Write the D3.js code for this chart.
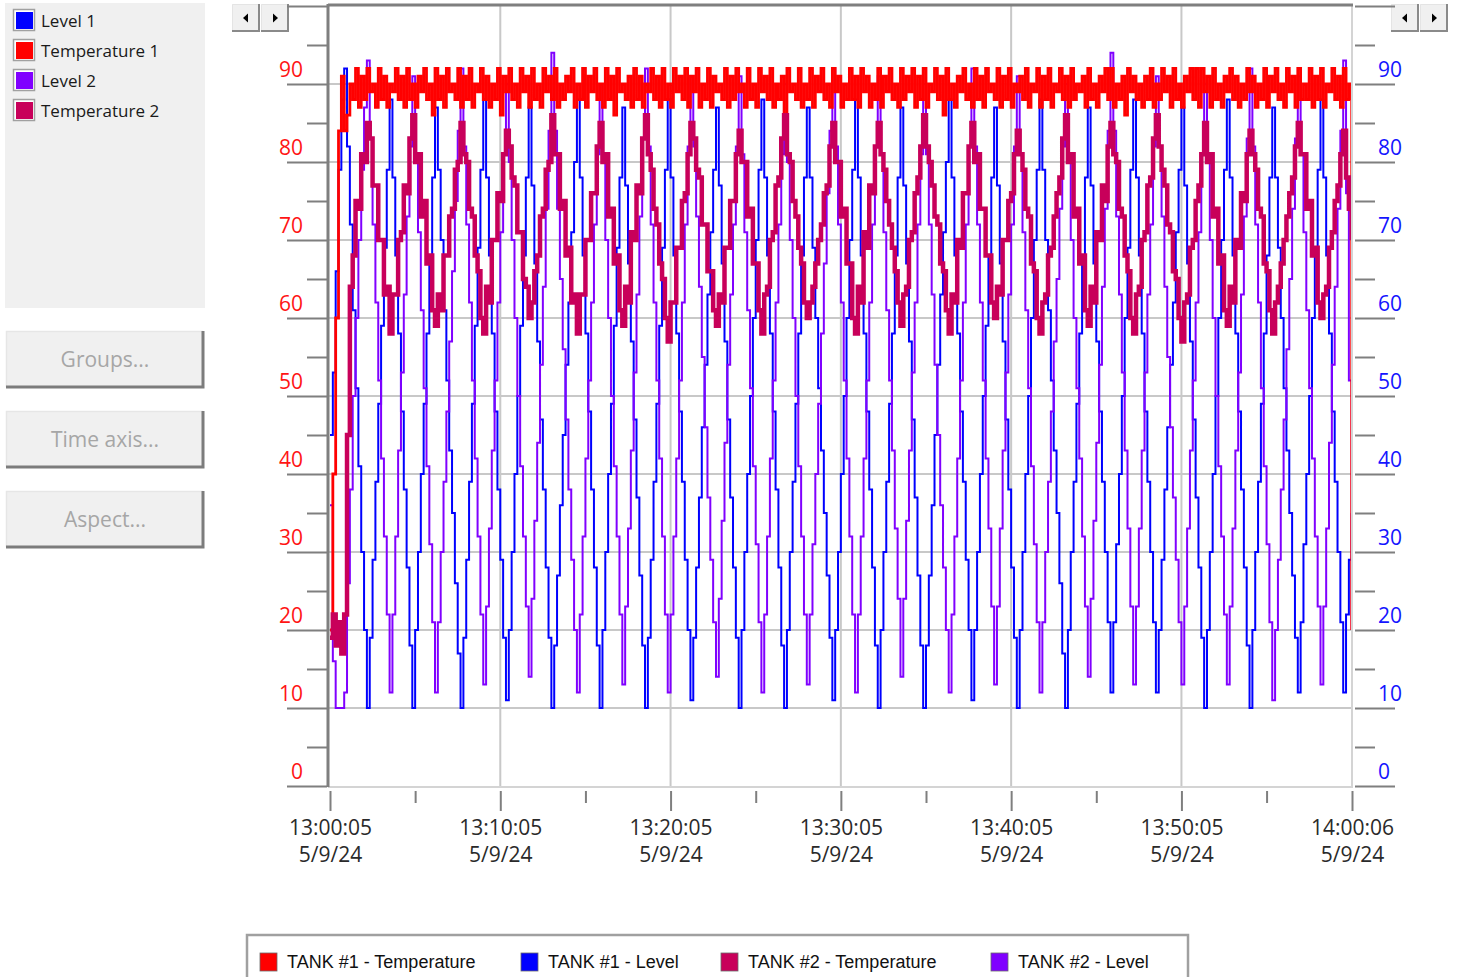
<!DOCTYPE html>
<html lang="en">
<head>
<meta charset="UTF-8"/>
<title>Tank trend</title>
<script src="https://d3js.org/d3.v7.min.js"></script>
<style>
body { margin: 0; background: #ffffff; }
</style>
</head>
<body>
<div id="chart"></div>
<script>
// time base of the trend: one sample every 10 s
var startTime = "2024-05-09 13:00:05";
var endTime = "2024-05-09 14:00:06";
var sampleSeconds = 10;

// TANK #1 - Level
var level1 = [45,53,66,79,88,92,
  82,72,61,51,41,30,20,10, 19,29,39,49,59,69,79,88, 78,68,58,48,38,28,18,10, 20,30,40,49,58,68,78,87,
  79,70,61,52,43,35,26,17,10, 19,29,39,49,59,69,79,88, 78,68,58,48,38,29,19,11, 20,30,40,50,59,68,78,87,
  77,67,57,47,38,28,19,10, 18,27,36,45,54,62,71,80,88, 78,68,58,48,38,28,18,10, 20,30,40,49,59,69,78,87,
  77,67,57,47,37,27,18,10, 19,29,39,49,59,69,79,88, 78,68,58,48,39,29,20,11, 19,28,37,46,54,63,71,79,87,
  77,67,57,47,37,28,19,10, 20,30,40,50,60,70,79,88, 78,68,58,48,38,28,18,10, 20,30,39,49,58,68,78,87,
  78,69,60,51,43,35,27,19,11, 20,30,40,50,60,70,79,88, 78,68,58,48,38,28,18,10, 20,30,39,49,58,68,78,87,
  77,67,57,47,37,27,18,10, 18,27,36,45,54,63,71,80,88, 78,68,58,48,39,29,20,11, 20,30,40,50,59,68,78,87,
  77,67,57,47,38,28,19,10, 20,30,40,50,60,70,79,88, 79,70,61,52,43,35,26,17,10, 20,30,39,49,58,68,78,87,
  77,67,57,48,39,30,21,12, 21,31,40,50,60,69,79,88, 78,68,58,48,39,30,21,12, 20,29,38,46,54,62,71,79,87,
  77,67,57,47,37,28,19,10, 20,30,40,50,60,70,79,88, 78,68,58,48,38,28,18,10, 20,30,39,49,58,68,78,87,
  78,69,60,51,43,35,27,19,12, 21,31,40,50,60,69,79,88, 78,68,58,48,39,30,21,12, 22,29,35];

// TANK #1 - Temperature
var temp1 = [20,40,60,84,91,84,86,
  90,88,92,87,91,88,92,89,90,87,92,88,91,87,90,89,92,88,91,87,
  92,88,90,87,91,89,92,88,90,86,92,88,91,87,92,89,90,88,92,87,
  91,88,92,87,90,89,92,88,91,87,90,88,92,86,91,89,92,88,90,87,
  92,89,91,87,92,88,90,87,92,89,91,88,92,87,90,88,91,89,92,87,
  90,88,92,87,91,89,92,88,90,87,92,88,91,86,92,89,90,88,91,87,
  92,88,91,87,90,89,92,88,91,87,92,88,90,87,92,89,91,88,92,87,
  91,89,92,87,90,88,92,87,91,89,90,88,92,87,91,88,92,89,90,87,
  92,88,90,87,92,89,91,88,92,87,90,88,91,86,92,89,90,88,92,87,
  90,88,92,87,91,89,92,88,90,87,92,89,91,87,90,88,92,88,91,87,
  92,89,91,87,90,88,92,87,91,89,92,88,90,87,92,88,91,89,92,87,
  91,88,92,87,90,89,92,88,91,86,92,88,90,87,91,89,92,88,90,87,
  92,88,91,87,92,89,90,88,92,87,91,88,92,87,90,89,91,88,92,87,
  90,89,92,87,91,88,92,87,90,89,92,88,91,87,92,88,90,89,91,87,
  92,88,90,87,91,89,92,88,92,87,90,88,91,86,92,89,91,88,90,87,
  91,88,92,87,90,88,92,89,91,87,92,88,90,87,91,89,92,88,92,87,
  92,89,91,87,92,88,90,87,91,89,92,88,91,87,90,88,92,89,91,87,
  90,88,92,87,91,89,92,88,90,87,92,89,91,87,92,88,90,88,92,87,
  91,88,92,87,90,89,92,88,91,87,92,88,90,
  20];

// TANK #2 - Level
var level2 = [36,16,10,10,10,
  12,26,38,50,60,70,79,87,93, 83,72,62,52,42,32,22,12, 22,32,43,53,63,73,82,91, 81,71,61,51,41,31,21,12,
  21,30,39,48,57,66,75,84,92, 82,72,62,52,42,32,22,13, 23,33,43,52,62,71,81,90, 80,70,60,50,41,32,23,14,
  24,34,44,54,64,74,84,94, 84,74,65,56,47,38,29,20,12, 22,32,42,52,62,72,81,90, 80,70,60,50,41,32,22,13,
  23,33,43,53,63,73,83,92, 82,72,62,52,42,32,22,12, 22,32,42,52,62,72,82,91, 82,73,64,55,46,37,29,21,14,
  24,34,44,54,63,72,82,91, 81,71,61,51,41,31,21,12, 22,32,42,52,62,72,81,90, 80,70,60,50,41,32,22,13,
  22,31,40,49,58,67,76,84,92, 82,72,62,52,42,32,22,12, 22,32,42,52,62,72,82,91, 81,71,61,52,43,33,24,14,
  24,34,43,53,62,72,81,90, 81,72,63,54,45,36,28,20,12, 22,32,42,52,62,72,82,92, 82,72,62,52,42,33,23,13,
  23,33,43,53,63,72,82,91, 81,71,61,51,41,31,21,12, 21,30,39,48,57,65,74,82,90, 80,70,60,51,42,32,23,14,
  24,34,44,54,64,74,84,94, 84,73,63,53,43,33,23,13, 23,33,43,53,63,72,82,91, 82,73,64,55,46,37,29,21,13,
  23,33,43,52,62,71,81,90, 80,70,60,50,41,32,22,13, 23,33,43,53,63,73,83,92, 82,72,62,51,41,31,21,11,
  20,29,38,47,56,65,74,83,91, 81,71,61,51,42,32,23,13, 23,33,44,54,64,74,84,93, 76,52,20];

// TANK #2 - Temperature
var temp2 = [19,22,18,21,17,22,
  45,64,68,75,74,81,80,85, 83,77,77,70,70,63,64,58, 63,63,70,71,77,76,83,86, 80,81,73,75,67,68,61,59,
  63,61,68,68,73,74,79,80,85, 81,80,74,73,68,66,60,58, 64,62,70,70,76,75,81,84, 82,78,77,71,71,65,64,60,
  62,66,68,73,74,79,80,86, 81,81,74,75,68,69,62,63,58, 63,63,70,70,76,76,82,85, 80,81,73,74,67,68,61,59,
  64,62,71,70,77,76,83,86, 81,79,74,72,67,65,60,57, 62,62,69,69,75,76,81,85, 83,79,78,72,72,66,66,61,59,
  63,62,69,69,75,75,81,84, 80,80,73,74,67,67,61,58, 63,64,70,71,77,78,83,86, 81,80,75,73,69,67,62,60,
  62,64,67,70,72,76,77,82,85, 80,80,73,74,67,67,60,58, 64,62,71,69,77,76,82,85, 81,79,75,72,69,66,62,59,
  63,64,70,71,76,78,82,86, 82,80,77,73,72,67,66,61,58, 63,62,70,69,76,76,82,85, 80,81,74,74,68,68,62,60,
  64,63,70,70,75,76,81,84, 81,79,74,73,67,66,60,58, 62,63,68,69,73,76,78,83,86, 80,81,73,74,67,68,61,59,
  64,62,71,70,77,75,82,85, 81,80,74,73,68,66,60,58, 63,64,70,71,77,78,83,86, 82,79,77,72,71,66,65,60,57,
  62,63,69,70,75,77,81,85, 80,81,73,74,67,68,61,59, 64,62,70,69,76,75,81,84, 81,79,74,73,67,66,61,58,
  62,64,67,70,73,76,78,82,85, 81,81,74,75,68,69,62,60, 63,64,69,71,75,77,81,84, 78,74,70];

var panelNames = ["Level 1", "Temperature 1", "Level 2", "Temperature 2"];
var panelColors = ["#0000ff", "#ff0000", "#8000ff", "#c8005a"];
var legendNames = ["TANK #1 - Temperature", "TANK #1 - Level", "TANK #2 - Temperature", "TANK #2 - Level"];
var legendColors = ["#ff0000", "#0000ff", "#c8005a", "#8000ff"];
var buttonLabels = ["Groups...", "Time axis...", "Aspect..."];

var yMajor = [0, 10, 20, 30, 40, 50, 60, 70, 80, 90, 100];
var yMinor = [5, 15, 25, 35, 45, 55, 65, 75, 85, 95];
var xMajor = ["13:00:05", "13:10:05", "13:20:05", "13:30:05", "13:40:05", "13:50:05", "14:00:06"];
var xMinor = ["13:05:05", "13:15:05", "13:25:05", "13:35:05", "13:45:05", "13:55:05"];
var xDateLabel = "5/9/24";

var w = 1460, h = 977;
var parseFull = d3.timeParse("%Y-%m-%d %H:%M:%S");
var parseTick = function(s) { return parseFull("2024-05-09 " + s); };
var t0 = parseFull(startTime);
var timeAt = function(i) { return new Date(t0.getTime() + i * sampleSeconds * 1000); };

var x = d3.scaleTime()
  .domain([t0, parseFull(endTime)])
  .range([330, 1352]);
var y = d3.scaleLinear()
  .domain([0, 100])
  .range([786, 6]);

var svg = d3.select("#chart").append("svg")
  .attr("width", w)
  .attr("height", h)
  .style("display", "block");

// ---- left panel (legend box + buttons)
svg.append("rect").attr("x", 5).attr("y", 3).attr("width", 200).attr("height", 305).attr("fill", "#f0f0f0");

var panel = svg.selectAll(".pitem").data(panelNames).enter().append("g")
  .attr("class", "pitem")
  .attr("transform", function(d, i) { return "translate(0," + (i * 30) + ")"; });
panel.append("rect").attr("x", 13.5).attr("y", 9.5).attr("width", 21).attr("height", 21)
  .attr("fill", "#ffffff").attr("stroke", "#a0a0a0").attr("stroke-width", 1.5);
panel.append("rect").attr("x", 16).attr("y", 12).attr("width", 17).attr("height", 17)
  .attr("fill", function(d, i) { return panelColors[i]; });
panel.append("text").attr("x", 41).attr("y", 27)
  .attr("font-family", "'Open Sans', sans-serif").attr("font-size", 17).attr("fill", "#1a1a1a")
  .text(function(d) { return d; });

var btn = svg.selectAll(".btn").data(buttonLabels).enter().append("g")
  .attr("class", "btn")
  .attr("transform", function(d, i) { return "translate(6," + (331 + i * 80) + ")"; });
btn.append("rect").attr("width", 198).attr("height", 57).attr("fill", "#f0f0f0");
btn.append("path").attr("d", "M0.5,56 V0.5 H197").attr("fill", "none").attr("stroke", "#e6e6e6").attr("stroke-width", 1.5);
btn.append("path").attr("d", "M0,56 H197 V0").attr("fill", "none").attr("stroke", "#7c7c7c").attr("stroke-width", 3);
btn.append("text").attr("x", 99).attr("y", 36).attr("text-anchor", "middle")
  .attr("font-family", "'Open Sans', sans-serif").attr("font-size", 21).attr("fill", "#a6a6a6")
  .text(function(d) { return d; });

// small scroll buttons
function scrollPair(x0) {
  [0, 1].forEach(function(k) {
    var g = svg.append("g").attr("transform", "translate(" + (x0 + k * 29) + ",4)");
    g.append("rect").attr("width", 28).attr("height", 28).attr("fill", "#f0f0f0");
    g.append("path").attr("d", "M0.5,27 V0.5 H27").attr("fill", "none").attr("stroke", "#e4e4e4").attr("stroke-width", 1);
    g.append("path").attr("d", "M0,27 H27 V0").attr("fill", "none").attr("stroke", "#8a8a8a").attr("stroke-width", 2);
    g.append("path").attr("fill", "#000")
      .attr("d", k === 0 ? "M11,14 L16,9.5 L16,18.5 Z" : "M17,14 L12,9.5 L12,18.5 Z");
  });
}
scrollPair(232);
scrollPair(1391);

// ---- grid
svg.append("g").selectAll("line").data(yMajor.slice(1, 10)).enter().append("line")
  .attr("x1", 329).attr("x2", 1352)
  .attr("y1", function(d) { return y(d); }).attr("y2", function(d) { return y(d); })
  .attr("stroke", "#c8c8c8").attr("stroke-width", 2);
svg.append("g").selectAll("line").data(xMajor.slice(1, 6)).enter().append("line")
  .attr("x1", function(d) { return x(parseTick(d)); }).attr("x2", function(d) { return x(parseTick(d)); })
  .attr("y1", 6).attr("y2", 786)
  .attr("stroke", "#c8c8c8").attr("stroke-width", 2);

// ---- series
svg.append("clipPath").attr("id", "plotclip").append("rect")
  .attr("x", 329).attr("y", 6).attr("width", 1023).attr("height", 780);

var stepLine = d3.line()
  .x(function(d, i) { return x(timeAt(i)); })
  .y(function(d) { return y(d); })
  .curve(d3.curveStepAfter);

var plot = svg.append("g").attr("clip-path", "url(#plotclip)");
plot.append("path").datum(level1).attr("d", stepLine)
  .attr("fill", "none").attr("stroke", "#0000ff").attr("stroke-width", 2);
plot.append("path").datum(level2).attr("d", stepLine)
  .attr("fill", "none").attr("stroke", "#8000ff").attr("stroke-width", 2);
plot.append("path").datum(temp1).attr("d", stepLine)
  .attr("fill", "none").attr("stroke", "#ff0000").attr("stroke-width", 2.8);
plot.append("path").datum(temp2).attr("d", stepLine)
  .attr("fill", "none").attr("stroke", "#c8005a").attr("stroke-width", 4.5);

// ---- frame
svg.append("line").attr("x1", 1352).attr("x2", 1352).attr("y1", 5).attr("y2", 787).attr("stroke", "#d4d4d4").attr("stroke-width", 2);
svg.append("line").attr("x1", 328).attr("x2", 1353).attr("y1", 787).attr("y2", 787).attr("stroke", "#d4d4d4").attr("stroke-width", 2);
svg.append("line").attr("x1", 328).attr("x2", 1353).attr("y1", 5).attr("y2", 5).attr("stroke", "#7f7f7f").attr("stroke-width", 3);
svg.append("line").attr("x1", 328).attr("x2", 328).attr("y1", 4).attr("y2", 787).attr("stroke", "#7f7f7f").attr("stroke-width", 3);

// ---- y axes
function styleAxis(g) {
  g.select(".domain").remove();
  g.attr("font-family", "'Open Sans', sans-serif").attr("font-size", 21);
  g.selectAll(".tick line").attr("stroke", "#7f7f7f").attr("stroke-width", 2);
}
var gL = svg.append("g").attr("transform", "translate(327,0)")
  .call(d3.axisLeft(y).tickValues(yMajor).tickSize(40).tickFormat(function(d) { return d === 100 ? "" : d; }));
styleAxis(gL);
gL.selectAll(".tick text").attr("x", -24).attr("y", -7.5).attr("dy", 0).attr("fill", "#ff1414");
var gLm = svg.append("g").attr("transform", "translate(327,0)")
  .call(d3.axisLeft(y).tickValues(yMinor).tickSize(20).tickFormat(""));
styleAxis(gLm);

var gR = svg.append("g").attr("transform", "translate(1355,0)")
  .call(d3.axisRight(y).tickValues(yMajor).tickSize(40).tickFormat(function(d) { return d === 100 ? "" : d; }));
styleAxis(gR);
gR.selectAll(".tick text").attr("x", 23).attr("y", -7.5).attr("dy", 0).attr("fill", "#1414ff");
var gRm = svg.append("g").attr("transform", "translate(1355,0)")
  .call(d3.axisRight(y).tickValues(yMinor).tickSize(20).tickFormat(""));
styleAxis(gRm);

// ---- time axis
var gX = svg.append("g").attr("transform", "translate(0,791)")
  .call(d3.axisBottom(x).tickValues(xMajor.map(parseTick)).tickSize(20).tickFormat(d3.timeFormat("%H:%M:%S")));
styleAxis(gX);
gX.selectAll(".tick text").attr("fill", "#2a2a2a").attr("dy", 0).each(function() {
  var t = d3.select(this);
  var label = t.text();
  t.text(null);
  t.append("tspan").attr("x", 0).attr("y", 44).text(label);
  t.append("tspan").attr("x", 0).attr("y", 71).text(xDateLabel);
});
var gXm = svg.append("g").attr("transform", "translate(0,791)")
  .call(d3.axisBottom(x).tickValues(xMinor.map(parseTick)).tickSize(12).tickFormat(""));
styleAxis(gXm);

// ---- bottom legend
svg.append("rect").attr("x", 247).attr("y", 935).attr("width", 941).attr("height", 60)
  .attr("fill", "#ffffff").attr("stroke", "#a0a0a0").attr("stroke-width", 2.5);
var legX = [260, 521, 721, 991];
var leg = svg.selectAll(".litem").data(legendNames).enter().append("g")
  .attr("class", "litem")
  .attr("transform", function(d, i) { return "translate(" + legX[i] + ",953)"; });
leg.append("rect").attr("width", 17).attr("height", 18)
  .attr("fill", function(d, i) { return legendColors[i]; })
  .attr("stroke", "#6a6a6a").attr("stroke-width", 0.8);
leg.append("text").attr("x", 27).attr("y", 15)
  .attr("font-family", "'Liberation Sans', Arial, sans-serif").attr("font-size", 18).attr("fill", "#111")
  .text(function(d) { return d; });
</script>
</body>
</html>
